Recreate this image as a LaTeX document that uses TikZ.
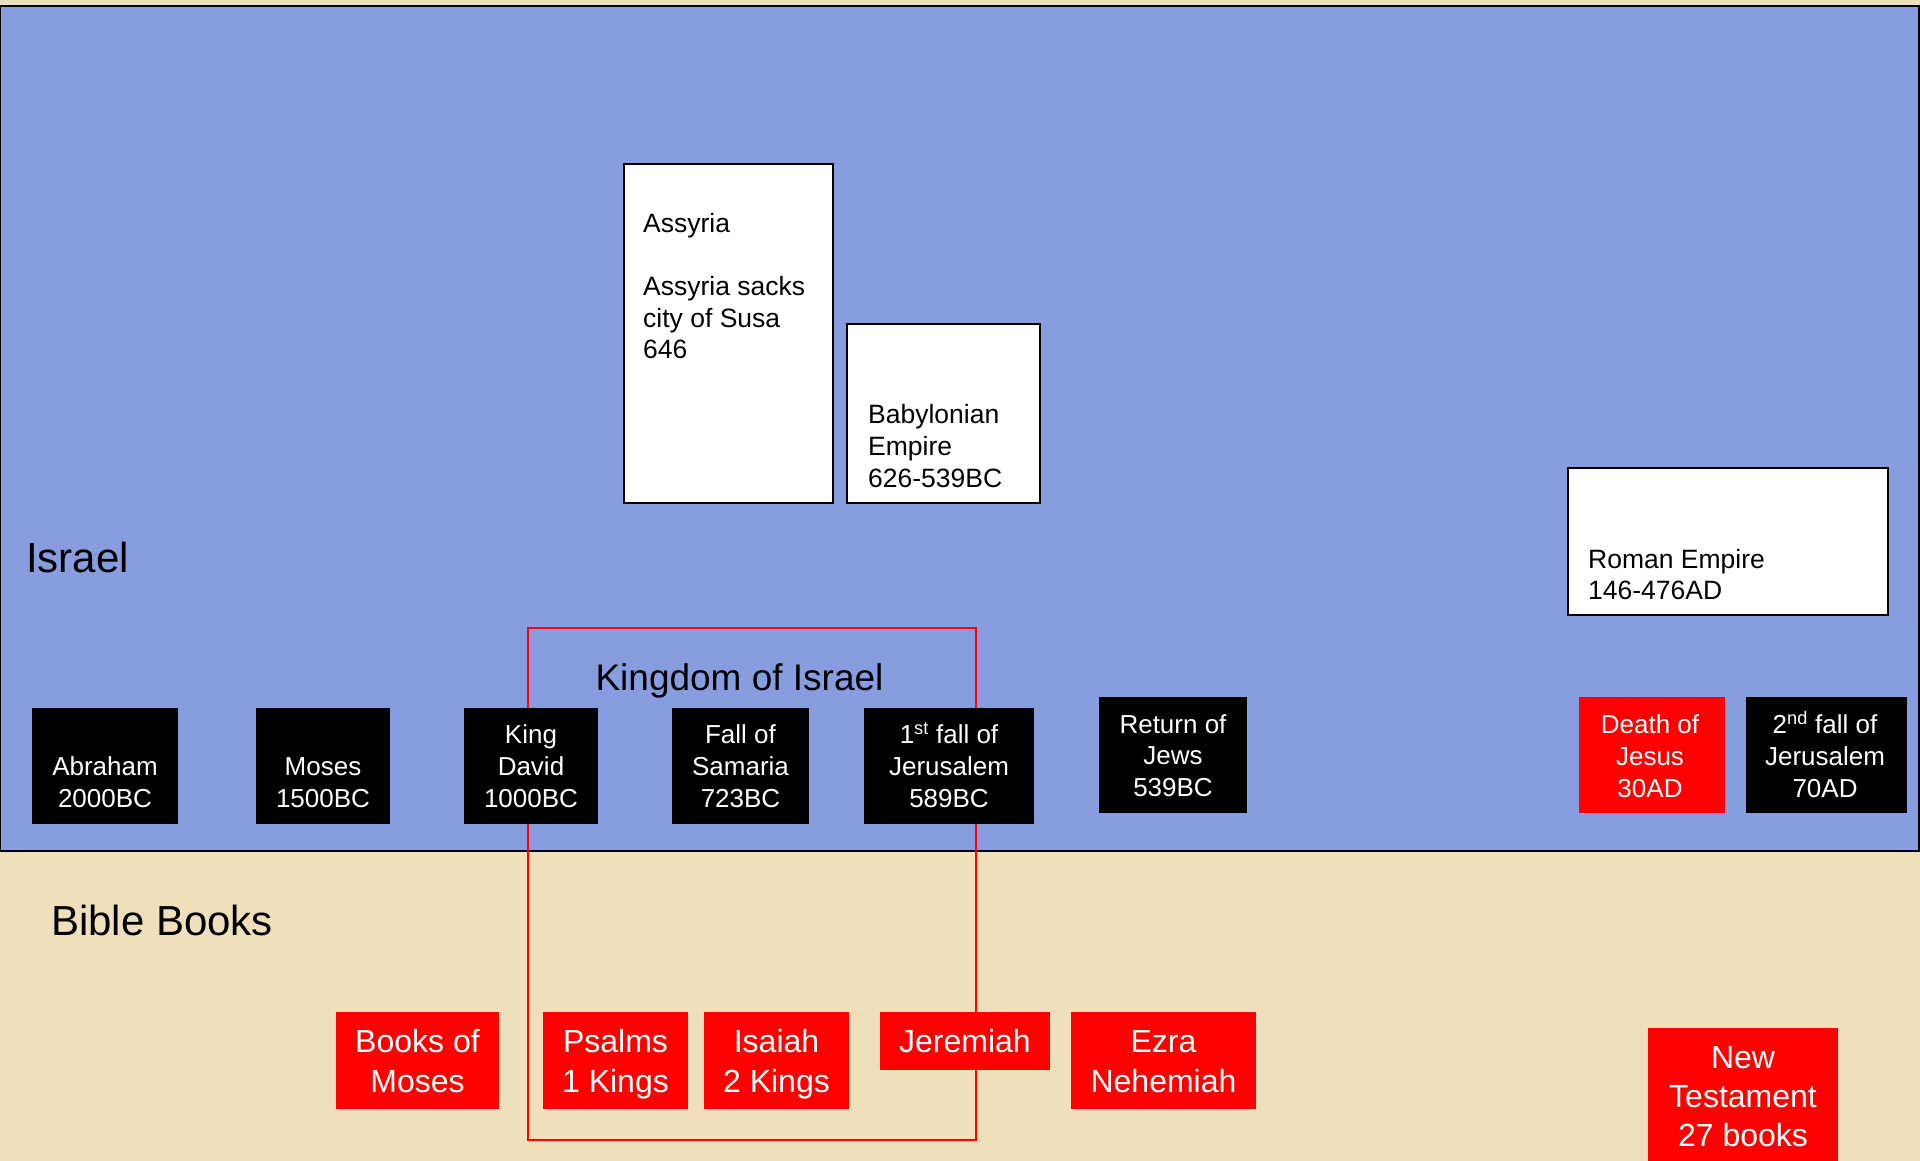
\documentclass[tikz,border=0pt]{standalone}
\usepackage{fontspec}
\setmainfont{Liberation Sans}
\definecolor{parch}{RGB}{239,224,187}
\definecolor{skyb}{RGB}{136,156,224}
\definecolor{pptred}{RGB}{255,0,0}
\begin{document}
\begin{tikzpicture}[x=1pt,y=-1pt,
  box/.style={inner sep=0pt, outer sep=0pt, anchor=north west},
  evbox/.style={box, fill=black},
  bkbox/.style={box, fill=pptred},
  wbox/.style={box, fill=white, draw=black, line width=2pt},
  evtxt/.style={inner sep=0pt, anchor=north, align=center, text=white, font=\fontsize{26}{32}\selectfont},
  bktxt/.style={inner sep=0pt, anchor=north, align=center, text=white, font=\fontsize{32}{40}\selectfont},
  wtxt/.style={inner sep=0pt, anchor=north west, align=left, text=black},
  big/.style={inner sep=0pt, anchor=base west, font=\fontsize{42}{50}\selectfont}
]
\useasboundingbox (0,0) rectangle (1920,1161);
\fill[parch] (0,0) rectangle (1920,1161);
\draw[fill=skyb, draw=black, line width=2.5pt] (0,6) rectangle (1919,851);

% Kingdom of Israel frame (behind boxes)
\draw[pptred, line width=2pt] (528,628) rectangle (976,1140);
\node[inner sep=0pt, anchor=base, font=\fontsize{37}{44}\selectfont] (kingdom) at (739.5,690) {Kingdom of Israel};

% labels
\node[big] (israel) at (26,572) {Israel};
\node[big] (biblebooks) at (51,935) {Bible Books};

% empires
\node[wbox, minimum width=209pt, minimum height=339pt] (assyria) at (624,164) {};
\node[wtxt, font=\fontsize{26.5}{31.7}\selectfont] (assyria-t) at (643,209.8)
  {\strut Assyria\\[31.7pt]Assyria sacks\\city of Susa\\646};
\node[wbox, minimum width=193pt, minimum height=179pt] (babylon) at (847,324) {};
\node[wtxt, font=\fontsize{26.5}{32}\selectfont] (babylon-t) at (868,400.6)
  {\strut Babylonian\\Empire\\626-539BC};
\node[wbox, minimum width=320pt, minimum height=147pt] (rome) at (1568,468) {};
\node[wtxt, font=\fontsize{26.5}{31}\selectfont] (rome-t) at (1588,546.3)
  {\strut Roman Empire\\146-476AD};

% events
\node[evbox, minimum width=146pt, minimum height=116pt] (abraham) at (32,708) {};
\node[evtxt] (abraham-t) at (105,752.6) {\strut Abraham\\2000BC};
\node[evbox, minimum width=134pt, minimum height=116pt] (moses) at (256,708) {};
\node[evtxt] (moses-t) at (323,752.6) {\strut Moses\\1500BC};
\node[evbox, minimum width=134pt, minimum height=116pt] (david) at (464,708) {};
\node[evtxt] (david-t) at (531,720.6) {\strut King\\David\\1000BC};
\node[evbox, minimum width=137pt, minimum height=116pt] (samaria) at (672,708) {};
\node[evtxt] (samaria-t) at (740.5,720.6) {\strut Fall of\\Samaria\\723BC};
\node[evbox, minimum width=170pt, minimum height=116pt] (jerus1) at (864,708) {};
\node[evtxt] (jerus1-t) at (949,720.6) {\strut 1\textsuperscript{st} fall of\\Jerusalem\\589BC};
\node[evbox, minimum width=148pt, minimum height=116pt] (return) at (1099,697) {};
\node[evtxt, font=\fontsize{26}{31.5}\selectfont] (return-t) at (1173,711) {\strut Return of\\Jews\\539BC};
\node[bkbox, minimum width=146pt, minimum height=116pt] (jesus) at (1579,697) {};
\node[evtxt] (jesus-t) at (1650,710.6) {\strut Death of\\Jesus\\30AD};
\node[evbox, minimum width=161pt, minimum height=116pt] (jerus2) at (1746,697) {};
\node[evtxt] (jerus2-t) at (1825,710.6) {\strut 2\textsuperscript{nd} fall of\\Jerusalem\\70AD};

% books
\node[bkbox, minimum width=163pt, minimum height=97pt] (bmoses) at (336,1012) {};
\node[bktxt] (bmoses-t) at (417.5,1024) {\strut Books of\\Moses};
\node[bkbox, minimum width=145pt, minimum height=97pt] (psalms) at (543,1012) {};
\node[bktxt] (psalms-t) at (615.5,1024) {\strut Psalms\\1 Kings};
\node[bkbox, minimum width=145pt, minimum height=97pt] (isaiah) at (704,1012) {};
\node[bktxt] (isaiah-t) at (776.5,1024) {\strut Isaiah\\2 Kings};
\node[bkbox, minimum width=170pt, minimum height=58pt] (jeremiah) at (880,1012) {};
\node[bktxt] (jeremiah-t) at (965,1024) {\strut Jeremiah};
\node[bkbox, minimum width=185pt, minimum height=97pt] (ezra) at (1071,1012) {};
\node[bktxt] (ezra-t) at (1163.5,1024) {\strut Ezra\\Nehemiah};
\node[bkbox, minimum width=190pt, minimum height=140pt] (newt) at (1648,1028) {};
\node[bktxt, font=\fontsize{32}{39}\selectfont] (newt-t) at (1743,1040.7) {\strut New\\Testament\\27 books};
\end{tikzpicture}
\end{document}
